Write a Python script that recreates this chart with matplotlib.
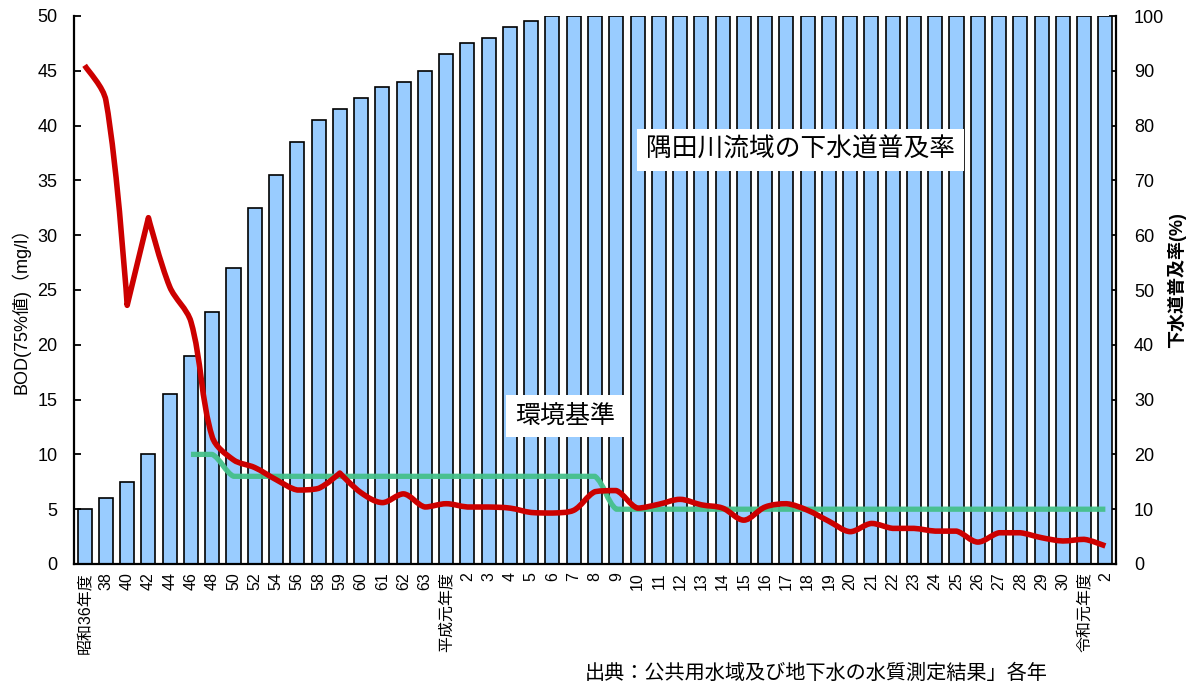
import numpy as np
import matplotlib
matplotlib.use("Agg")
import matplotlib.pyplot as plt
from matplotlib.path import Path
from matplotlib.patches import PathPatch

plt.rcParams["font.family"] = ["Liberation Sans", "Noto Sans CJK JP", "DejaVu Sans"]

# ---- data -------------------------------------------------------------
years = [
    "昭和36年度", "38", "40", "42", "44", "46", "48", "50", "52", "54",
    "56", "58", "59", "60", "61", "62", "63", "平成元年度", "2", "3",
    "4", "5", "6", "7", "8", "9", "10", "11", "12", "13",
    "14", "15", "16", "17", "18", "19", "20", "21", "22", "23",
    "24", "25", "26", "27", "28", "29", "30", "令和元年度", "2",
]

# sewerage coverage in the Sumida River basin (%)
sewer_rate = [
    10, 12, 15, 20, 31, 38, 46, 54, 65, 71,
    77, 81, 83, 85, 87, 88, 90, 93, 95, 96,
    98, 99, 100, 100, 100, 100, 100, 100, 100, 100,
    100, 100, 100, 100, 100, 100, 100, 100, 100, 100,
    100, 100, 100, 100, 100, 100, 100, 100, 100,
]

# BOD (75% value, mg/l)
bod = [
    45.5, 42.3, 23.6, 31.6, 25.3, 22.1, 11.6, 9.5, 8.8, 7.7,
    6.75, 6.9, 8.3, 6.5, 5.6, 6.4, 5.2, 5.5, 5.2, 5.2,
    5.1, 4.7, 4.65, 4.9, 6.6, 6.7, 5.1, 5.45, 5.9, 5.4,
    5.1, 4.0, 5.2, 5.5, 4.9, 3.9, 2.95, 3.7, 3.25, 3.25,
    3.0, 3.0, 2.0, 2.85, 2.85, 2.4, 2.1, 2.25, 1.65,
]

# environmental standard for BOD (mg/l); none before 昭和46年度
standard = [
    None, None, None, None, None, 10, 10, 8, 8, 8,
    8, 8, 8, 8, 8, 8, 8, 8, 8, 8,
    8, 8, 8, 8, 8, 5, 5, 5, 5, 5,
    5, 5, 5, 5, 5, 5, 5, 5, 5, 5,
    5, 5, 5, 5, 5, 5, 5, 5, 5,
]

source_note = "出典：公共用水域及び地下水の水質測定結果」各年"


def smooth_path(axes, xs, ys, corner_deg=70.0):
    """Smoothed line through the points (cubic Bezier chain, no overshoot).

    Tangents follow a Catmull-Rom scheme evaluated in screen space, with
    handle lengths scaled by the neighbouring chord lengths; control points
    stay inside the vertical range of their segment, and sharp turns are
    kept as corners.
    """
    data = np.column_stack([xs, ys]).astype(float)
    pts = axes.transData.transform(data)
    n = len(pts)
    seg = np.diff(pts, axis=0)
    chords = np.hypot(*seg.T)
    tang = np.zeros_like(pts)
    for i in range(n):
        p0 = pts[max(i - 1, 0)]
        p2 = pts[min(i + 1, n - 1)]
        tang[i] = (p2 - p0) / 6.0
        if 0 < i < n - 1:
            a, b = seg[i - 1], seg[i]
            cosang = np.dot(a, b) / (np.linalg.norm(a) * np.linalg.norm(b))
            if np.degrees(np.arccos(np.clip(cosang, -1, 1))) > corner_deg:
                tang[i] = 0.0
    verts = [pts[0]]
    codes = [Path.MOVETO]
    for i in range(n - 1):
        p1, p2 = pts[i], pts[i + 1]
        d = chords[i]
        dl = chords[i - 1] if i > 0 else d
        dr = chords[i + 1] if i + 1 < n - 1 else d
        c1 = p1 + tang[i] * (2 * d / (dl + d))
        c2 = p2 - tang[i + 1] * (2 * d / (d + dr))
        lo, hi = min(p1[1], p2[1]), max(p1[1], p2[1])
        c1[1] = np.clip(c1[1], lo, hi)
        c2[1] = np.clip(c2[1], lo, hi)
        verts += [c1, c2, p2]
        codes += [Path.CURVE4] * 3
    verts = axes.transData.inverted().transform(np.array(verts))
    return Path(verts, codes)


# ---- figure -----------------------------------------------------------
W, H = 1196, 684
fig = plt.figure(figsize=(W / 100, H / 100), dpi=100)
fig.patch.set_facecolor("white")

ax = fig.add_axes([74 / W, 1 - 564 / H, (1116 - 74) / W, (564 - 16) / H])
ax2 = ax.twinx()

x = np.arange(len(years))

# bars: sewerage coverage on the right axis
ax2.bar(x, sewer_rate, width=0.66, color="#99CCFF", edgecolor="black",
        linewidth=1.2, zorder=2)
ax2.set_ylim(0, 100)
ax2.set_yticks(np.arange(0, 101, 10))

# keep the BOD axes above the bars
ax.set_zorder(ax2.get_zorder() + 1)
ax.patch.set_visible(False)

ax.set_xlim(-0.5, len(years) - 0.5)
ax.set_ylim(0, 50)
ax.set_yticks(np.arange(0, 51, 5))

# environmental standard line
sx = [i for i, v in zip(x, standard) if v is not None]
sy = [v for v in standard if v is not None]
ax.add_patch(PathPatch(smooth_path(ax, sx, sy), facecolor="none",
                       edgecolor="#45C08A", linewidth=3.8, alpha=0.95,
                       capstyle="butt", joinstyle="round", zorder=3))

# BOD line
ax.add_patch(PathPatch(smooth_path(ax, x, bod), facecolor="none",
                       edgecolor="#CC0000", linewidth=4.0,
                       capstyle="butt", joinstyle="round", zorder=4))

# x axis labels
ax.set_xticks(x)
ax.set_xticklabels(years, rotation=90)
ax.tick_params(axis="x", length=0, labelsize=11.5, pad=6)

ax.tick_params(axis="y", direction="in", length=5, width=1.3,
               labelsize=13, pad=12)
ax2.tick_params(axis="y", direction="in", length=5, width=1.3,
                labelsize=13, pad=13)

for a in (ax, ax2):
    a.spines["top"].set_visible(False)
ax.spines["right"].set_visible(False)
ax2.spines["left"].set_visible(False)
ax.spines["left"].set_linewidth(1.6)
ax.spines["bottom"].set_linewidth(1.6)
ax2.spines["right"].set_linewidth(1.6)
ax2.spines["bottom"].set_visible(False)

# annotations
box = dict(boxstyle="square,pad=0.35", facecolor="white", edgecolor="none")
ax.text(33.68, 37.8, "隅田川流域の下水道普及率", fontsize=18.5,
        ha="center", va="center", bbox=box, zorder=6)
ax.text(22.58, 13.5, "環境基準", fontsize=18,
        ha="center", va="center", bbox=box, zorder=6)

# axis titles
fig.text(21 / W, 1 - 306 / H, "BOD(75%値)（mg/l）", fontsize=13,
         rotation=90, ha="center", va="center")
fig.text(1177 / W, 1 - 280 / H, "下水道普及率(%)", fontsize=13,
         fontweight="bold", rotation=90, ha="center", va="center")

# source
fig.text(585 / W, 1 - 673 / H, source_note, fontsize=14.5,
         ha="left", va="center")

fig.savefig("out.png", dpi=100, facecolor="white")
